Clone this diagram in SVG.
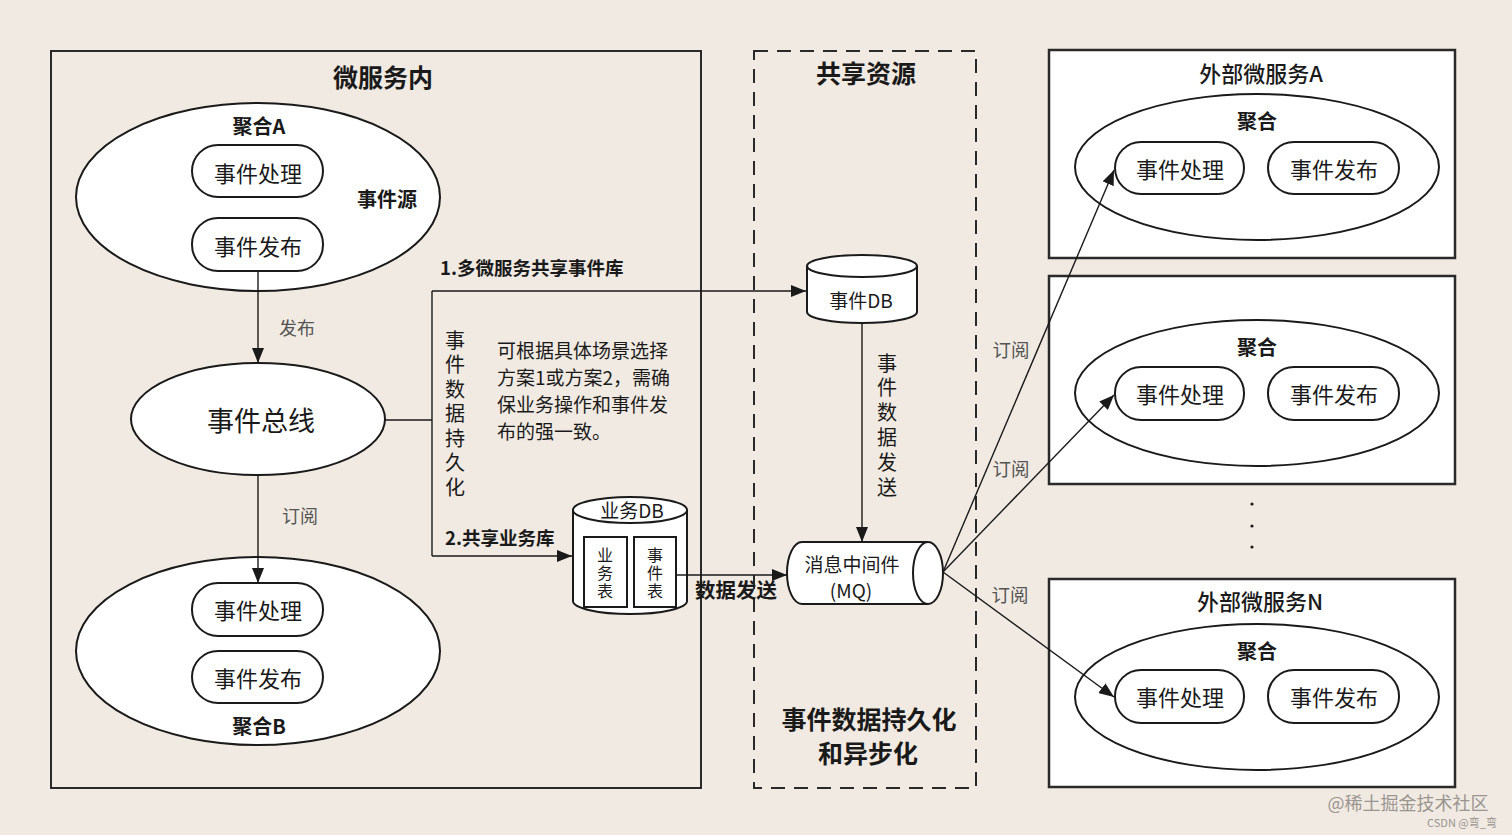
<svg xmlns="http://www.w3.org/2000/svg" width="1512" height="835" viewBox="0 0 1512 835">
<defs>
<style>
text{font-family:"Noto Sans CJK SC","Liberation Sans",sans-serif;fill:#1a1a1a;text-anchor:middle;dominant-baseline:central}
.shape{fill:#fff;stroke:#1a1a1a;stroke-width:2}
.frame{fill:none;stroke:#2a2a2a;stroke-width:2}
.box{fill:#fff;stroke:#2a2a2a;stroke-width:2.5}
.dash{fill:none;stroke:#2a2a2a;stroke-width:2;stroke-dasharray:14 9}
.conn{fill:none;stroke:#1a1a1a;stroke-width:1.4}
.arr{marker-end:url(#ah)}
.b{font-weight:700}
.m{font-weight:500}
.g{fill:#555}
.pill{font-size:22px}
.left{text-anchor:start}
.vert{writing-mode:vertical-rl;text-anchor:start;text-orientation:upright}
</style>
<marker id="ah" markerUnits="userSpaceOnUse" markerWidth="16" markerHeight="12" refX="15" refY="6" orient="auto">
<path d="M0,0 L15,6 L0,12 Z" fill="#1a1a1a"/>
</marker>
</defs>
<rect width="1512" height="835" fill="#F1EAE2"/>

<g id="inner-service">
<rect class="frame" x="51" y="51" width="650" height="737"/>
<text class="b" x="383" y="76" font-size="25">微服务内</text>
</g>

<g id="shared-resources">
<rect class="dash" x="754" y="51" width="222" height="737"/>
<text class="b" x="866" y="72" font-size="25">共享资源</text>
<text class="b" x="869" y="718" font-size="25">事件数据持久化</text>
<text class="b" x="868" y="752" font-size="25">和异步化</text>
</g>

<g id="aggregate-a">
<ellipse class="shape" cx="258" cy="197" rx="182" ry="94"/>
<text class="b" x="259" y="125" font-size="20">聚合A</text>
<rect class="shape" x="192" y="145" width="131" height="52" rx="26"/>
<text class="pill" x="258" y="172">事件处理</text>
<rect class="shape" x="192" y="218" width="131" height="53" rx="26"/>
<text class="pill" x="258" y="245">事件发布</text>
<text class="b" x="387" y="198" font-size="20">事件源</text>
</g>

<g id="event-bus">
<ellipse class="shape" cx="258" cy="419" rx="127" ry="56"/>
<text x="261" y="419" font-size="27">事件总线</text>
</g>

<g id="aggregate-b">
<ellipse class="shape" cx="258" cy="651" rx="182" ry="94"/>
<rect class="shape" x="192" y="583" width="131" height="53" rx="26"/>
<text class="pill" x="258" y="609">事件处理</text>
<rect class="shape" x="192" y="651" width="131" height="52" rx="26"/>
<text class="pill" x="258" y="677">事件发布</text>
<text class="b" x="259" y="725" font-size="20">聚合B</text>
</g>

<g id="biz-db">
<path class="shape" d="M573,510 A57,13 0 0 1 687,510 V601 A57,13 0 0 1 573,601 Z"/>
<path class="conn" style="stroke-width:2" d="M573,510 A57,13 0 0 0 687,510"/>
<text x="632" y="509" font-size="19">业务DB</text>
<rect class="shape" x="584" y="537" width="43" height="70"/>
<rect class="shape" x="634" y="537" width="42" height="70"/>
<text class="vert" x="605" y="547" font-size="16" letter-spacing="2">业务表</text>
<text class="vert" x="655" y="547" font-size="16" letter-spacing="2">事件表</text>
</g>

<g id="event-db">
<path class="shape" d="M807,266 A55,11 0 0 1 917,266 V312 A55,11 0 0 1 807,312 Z"/>
<path class="conn" style="stroke-width:2" d="M807,266 A55,11 0 0 0 917,266"/>
<text x="861" y="299" font-size="19">事件DB</text>
</g>

<g id="mq">
<path class="shape" d="M928,542 H802 A15,31 0 0 0 802,604 H928"/>
<ellipse class="shape" cx="928" cy="573" rx="15" ry="31"/>
<text x="852" y="563" font-size="19">消息中间件</text>
<text x="851" y="589" font-size="19">(MQ)</text>
</g>

<g id="ext-service-a">
<rect class="box" x="1049" y="50" width="406" height="208"/>
<text class="m" x="1261" y="72" font-size="22">外部微服务A</text>
<ellipse class="shape" cx="1257" cy="167" rx="182" ry="73"/>
<text class="b" x="1257" y="120" font-size="20">聚合</text>
<rect class="shape" x="1115" y="142" width="129" height="52" rx="26"/>
<text class="pill" x="1180" y="168">事件处理</text>
<rect class="shape" x="1268" y="142" width="131" height="52" rx="26"/>
<text class="pill" x="1334" y="168">事件发布</text>
</g>

<g id="ext-service-2">
<rect class="box" x="1049" y="276" width="406" height="208"/>
<ellipse class="shape" cx="1257" cy="393" rx="182" ry="73"/>
<text class="b" x="1257" y="346" font-size="20">聚合</text>
<rect class="shape" x="1115" y="367" width="129" height="53" rx="26"/>
<text class="pill" x="1180" y="393">事件处理</text>
<rect class="shape" x="1268" y="367" width="131" height="53" rx="26"/>
<text class="pill" x="1334" y="393">事件发布</text>
</g>

<g id="ellipsis">
<circle cx="1252" cy="504" r="1.6" fill="#1a1a1a"/>
<circle cx="1252" cy="526" r="1.6" fill="#1a1a1a"/>
<circle cx="1252" cy="547" r="1.6" fill="#1a1a1a"/>
</g>

<g id="ext-service-n">
<rect class="box" x="1049" y="579" width="406" height="208"/>
<text class="m" x="1260" y="600" font-size="22">外部微服务N</text>
<ellipse class="shape" cx="1257" cy="697" rx="182" ry="73"/>
<text class="b" x="1257" y="650" font-size="20">聚合</text>
<rect class="shape" x="1115" y="670" width="129" height="53" rx="26"/>
<text class="pill" x="1180" y="696">事件处理</text>
<rect class="shape" x="1268" y="670" width="131" height="53" rx="26"/>
<text class="pill" x="1334" y="696">事件发布</text>
</g>

<g id="connectors">
<path class="conn arr" d="M258,271 V363"/>
<path class="conn arr" d="M258,475 V583"/>
<path class="conn" d="M385,420 H432"/>
<path class="conn" d="M432,291 V556"/>
<path class="conn arr" d="M432,291 H806"/>
<path class="conn arr" d="M432,556 H572"/>
<path class="conn arr" d="M862,323 V542"/>
<path class="conn arr" d="M676,575 H787"/>
<path class="conn arr" d="M943,572 L1114,170"/>
<path class="conn arr" d="M943,572 L1114,395"/>
<path class="conn arr" d="M943,572 L1114,697"/>
</g>

<g id="labels">
<text class="g" x="297" y="327" font-size="18">发布</text>
<text class="g" x="300" y="515" font-size="18">订阅</text>
<text class="b left" x="440" y="267" font-size="18.5">1.多微服务共享事件库</text>
<text class="b left" x="445" y="537" font-size="18.5">2.共享业务库</text>
<text class="vert" x="455" y="330" font-size="20" letter-spacing="4.5">事件数据持久化</text>
<text class="left" x="497" y="349" font-size="19">可根据具体场景选择</text>
<text class="left" x="497" y="376" font-size="19">方案1或方案2，需确</text>
<text class="left" x="497" y="403" font-size="19">保业务操作和事件发</text>
<text class="left" x="497" y="430" font-size="19">布的强一致。</text>
<text class="b" x="736" y="589" font-size="20.5">数据发送</text>
<text class="vert" x="887" y="353" font-size="20" letter-spacing="4.8">事件数据发送</text>
<text class="g" x="1011" y="349" font-size="18.5">订阅</text>
<text class="g" x="1011" y="468" font-size="18.5">订阅</text>
<text class="g" x="1010" y="594" font-size="18.5">订阅</text>
</g>

<g id="watermark">
<text x="1408" y="802" font-size="18" style="fill:#9a9590">@稀土掘金技术社区</text>
<text x="1462" y="822" font-size="11" style="fill:#9a9590">CSDN @弯_弯</text>
</g>
</svg>
